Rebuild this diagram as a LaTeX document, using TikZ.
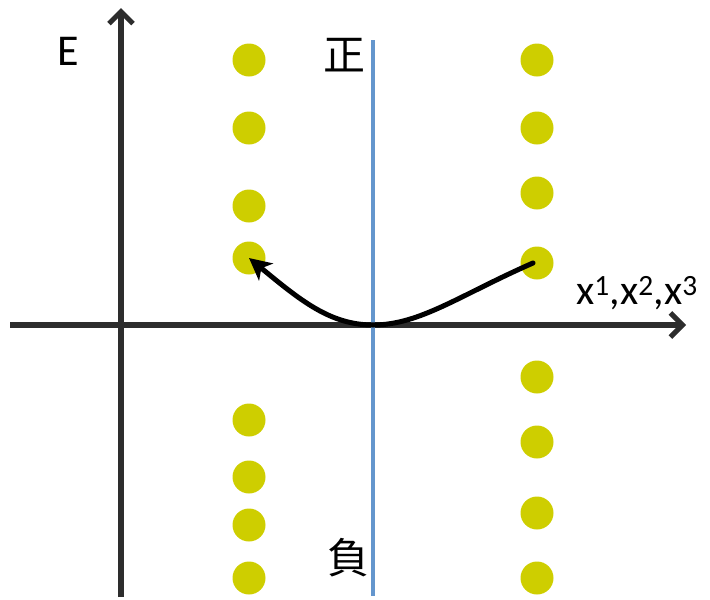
\documentclass[tikz,border=0pt]{standalone}
\usepackage{fontspec}
\setmainfont{Carlito}
\newfontfamily\cjk{Noto Sans CJK TC}
\usetikzlibrary{arrows.meta}
\definecolor{axisgray}{RGB}{45,45,45}
\definecolor{dotyellow}{RGB}{206,206,0}
\definecolor{lineblue}{RGB}{100,150,205}
\begin{document}
\begin{tikzpicture}[x=1pt,y=-1pt,
  axis/.style={draw=axisgray,line width=5.5pt,-{Straight Barb[length=12pt,width=24pt,line width=5pt]}},
  dot/.style={circle,fill=dotyellow,inner sep=0pt,minimum size=33pt},
  lbl/.style={inner sep=0pt,font=\fontsize{44}{46}\selectfont}]
\useasboundingbox (0,0) rectangle (710,600);
% axes
\coordinate (yb) at (121,597);
\coordinate (yt) at (121,8);
\coordinate (xl) at (10,325);
\coordinate (xr) at (686,325);
\draw[axis] (yb) -- (yt);
\draw[axis] (xl) -- (xr);
% blue line
\coordinate (bt) at (373,40);
\coordinate (bb) at (373,596);
% dots
\foreach \n/\x/\y in {L1/249/60,L2/249/128,L3/249/206,L4/249/258,L5/249/420,L6/249/477,L7/249/525,L8/249/578,
  R1/537/60,R2/537/128,R3/537/193,R4/537/263,R5/537/377,R6/537/442,R7/537/513,R8/537/578}
  \node[dot] (\n) at (\x,\y) {};
\draw[lineblue,line width=4.5pt] (bt) -- (bb);
% labels
\node[lbl] (E) at (68,51) {E};
\node[lbl,font=\fontsize{42}{44}\selectfont] (xlab) at (637,293) {x\textsuperscript{1},x\textsuperscript{2},x\textsuperscript{3}};
\node[lbl,font=\cjk\fontsize{42}{44}\selectfont] (zheng) at (344,55) {正};
\node[lbl,font=\cjk\fontsize{42}{44}\selectfont] (fu) at (348,558) {負};
% curve
\coordinate (bottom) at (373,325);
\draw[line width=5pt,line cap=round,-{Stealth[length=22pt,width=22pt,inset=6pt]}]
  (R4.center) ++(-4,0) .. controls (460,295) and (420,325) .. (bottom)
  .. controls (330,325) and (300,300) .. (L4.center);
\end{tikzpicture}
\end{document}
